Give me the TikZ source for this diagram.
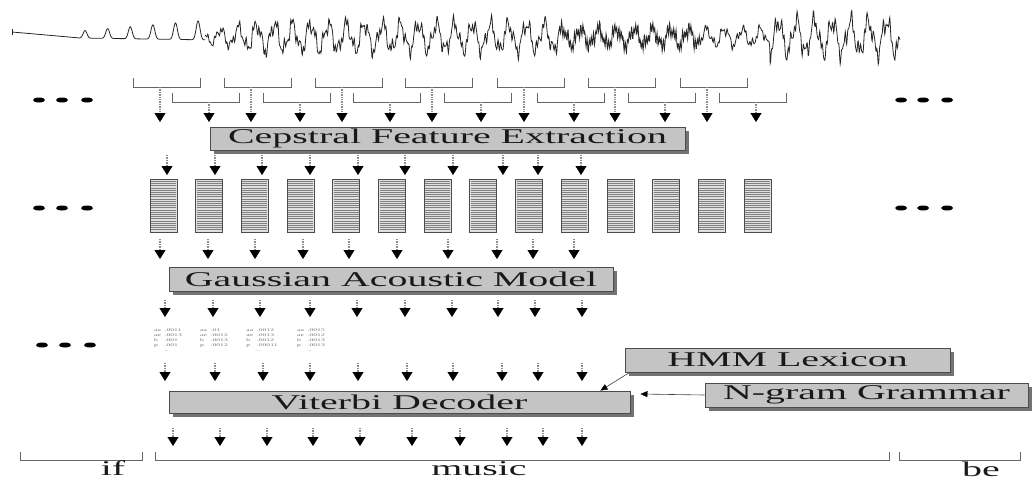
\documentclass[tikz,border=0pt]{standalone}
\usepackage{graphicx}
\usepackage{fontspec}
\setmainfont{Liberation Serif}
\usetikzlibrary{positioning, arrows.meta, shadows}
\tikzset{>=latex}
\newcommand{\wide}[1]{\scalebox{1.9}[1]{#1}}
\tikzset{
    stage/.style = {rectangle, draw=black!70, fill=black!23, line width=0.9pt, inner sep=0pt,
                        minimum height=23pt, align=center, text=black!90,
                        font=\fontsize{21}{24}\selectfont,
                        drop shadow={shadow xshift=4pt, shadow yshift=-4pt, fill=black!55, opacity=1}},
    fvec/.style = {rectangle, draw=black!70, fill=black!12, line width=1pt,
                        minimum width=27pt, minimum height=53pt, inner sep=0pt},
    word/.style = {font=\fontsize{21}{24}\selectfont, text=black!90, inner sep=0pt, anchor=base},
    lik/.style = {font=\fontsize{4}{5}\selectfont, text=black!55, inner sep=0pt},
    flow/.style = {draw=black!45, densely dotted, line width=1.4pt,
                        -{Triangle[width=11pt,length=9pt,line width=0.4pt,black]}},
    feed/.style = {draw=black!75, line width=0.6pt,
                        -{Triangle[width=6pt,length=7pt,line width=0.4pt,black]}},
    bracket/.style = {draw=black!60, line width=0.8pt},
    wave/.style = {draw=black!85, line width=0.8pt}
}

\begin{document}
\begin{tikzpicture}[x=1pt, y=-1pt,
    declare function={
        wamp(\x) = ifthenelse(\x<260, 7+(\x-205)*0.2, ifthenelse(\x<560, 18, ifthenelse(\x<770, 11, 22)));
        wbuzz(\x) = ifthenelse(\x>560, ifthenelse(\x<700, 1, 0.25), 0.25);
        wsig(\x) = 0.7*sin(20*mod(\x,18)) + 0.3*sin(47*mod(\x,7.66)+30)
                   + 0.2*sin(113*mod(\x,3.186))
                   + wbuzz(\x)*0.45*sin(170*mod(\x,2.1176));
    }]
\useasboundingbox (0,0) rectangle (1032,480);

% speech waveform
\draw[wave] (12,29) -- (12,35);
\draw[wave] (12,32) -- (80,38);
\draw[wave] plot[domain=80:205, samples=250]
    (\x, {38+0.015*(\x-80)-(7+0.1*(\x-80))*pow(abs(cos(7.96*(\x-85))),14)});
\draw[wave] plot[domain=205:900, samples=1500] (\x, {37-wamp(\x)*wsig(\x)});

% analysis windows
\foreach \l [count=\i] in {133,224,315,405,497,588,680} {
    \draw[bracket] (\l,78) -- (\l,87) -- (\l+67,87) -- (\l+67,78);
    \coordinate (wa\i) at (\l+27,87);
    \coordinate (wb\i) at (\l+27,122);
    \draw[flow] (wa\i) -- (wb\i);
}
\foreach \l [count=\i] in {172,263,353,444,537,628,719} {
    \draw[bracket] (\l,93) -- (\l,102) -- (\l+67,102) -- (\l+67,93);
    \coordinate (va\i) at (\l+37,102);
    \coordinate (vb\i) at (\l+37,122);
    \draw[flow] (va\i) -- (vb\i);
}

% ellipsis marks
\foreach \y/\s in {100/0, 208/0, 345/3}
    \foreach \d in {39,62,87}
        \fill[black] (\d+\s,\y) ellipse [x radius=6pt, y radius=2.5pt];
\foreach \y in {100, 208}
    \foreach \d in {901,923,947}
        \fill[black] (\d,\y) ellipse [x radius=6pt, y radius=2.5pt];

\node (ceps) [stage, minimum width=475pt] at (447.5,138.5) {\wide{Cepstral Feature Extraction}};

\foreach \x [count=\i] in {167,215,262,310,358,405,453,503,538,581} {
    \coordinate (ca\i) at (\x,155);
    \coordinate (cb\i) at (\x,175);
    \draw[flow] (ca\i) -- (cb\i);
}

% feature vectors
\foreach \i in {0,...,13} {
    \node (fv\i) [fvec] at ({163.5+45.7*\i},205.5) {};
    \foreach \k in {1,...,23}
        \draw[black!50, line width=0.5pt] ({151+45.7*\i},{179+2.2*\k}) -- ++(25,0);
}

\foreach \x [count=\i] in {160,208,255,303,349,397,448,497,533,574} {
    \coordinate (fa\i) at (\x,239);
    \coordinate (fb\i) at (\x,259);
    \draw[flow] (fa\i) -- (fb\i);
}

\node (gauss) [stage, minimum width=444pt, minimum height=24pt] at (391,279) {\wide{Gaussian Acoustic Model}};

\foreach \x [count=\i] in {165,213,260,310,357,405,452,498,535,582} {
    \coordinate (ga\i) at (\x,300);
    \coordinate (gb\i) at (\x,317);
    \draw[flow] (ga\i) -- (gb\i);
}

% phone likelihoods
\node (lik1) [lik] at (168,340) {\wide{\begin{tabular}{@{}l@{\ \ }l@{}}aa & .0011\\ ae & .0013\\ b & .001\\ p & .001\\ & --\end{tabular}}};
\node (lik2) [lik] at (214,340) {\wide{\begin{tabular}{@{}l@{\ \ }l@{}}aa & .01\\ ae & .0012\\ b & .0013\\ p & .0012\\ & \end{tabular}}};
\node (lik3) [lik] at (262,340) {\wide{\begin{tabular}{@{}l@{\ \ }l@{}}aa & .0012\\ ae & .0013\\ b & .0012\\ p & .00011\\ & --\end{tabular}}};
\node (lik4) [lik] at (311,340) {\wide{\begin{tabular}{@{}l@{\ \ }l@{}}aa & .0015\\ ae & .0012\\ b & .0013\\ p & .0013\\ & --\end{tabular}}};

\foreach \x [count=\i] in {165,215,263,310,358,407,453,502,538,582} {
    \coordinate (la\i) at (\x,363);
    \coordinate (lb\i) at (\x,381);
    \draw[flow] (la\i) -- (lb\i);
}

\node (viterbi) [stage, minimum width=461pt, minimum height=22pt] at (399.5,402) {\wide{Viterbi Decoder}};
\node (lexicon) [stage, minimum width=325pt, minimum height=24pt] at (787.5,360) {\wide{HMM Lexicon}};
\node (ngram) [stage, minimum width=323pt, minimum height=24pt] at (866.5,395) {\wide{N-gram Grammar}};
\draw[feed] ([xshift=5pt]lexicon.south west) -- ([xshift=-30pt]viterbi.north east);
\draw[feed] (ngram.west) -- ([xshift=10pt,yshift=8pt]viterbi.east);

\foreach \x [count=\i] in {173,220,267,313,360,412,460,507,543,582} {
    \coordinate (da\i) at (\x,428);
    \coordinate (db\i) at (\x,446);
    \draw[flow] (da\i) -- (db\i);
}

% word segments
\draw[bracket] (20,452) -- (20,460) -- (142,460) -- (142,452);
\draw[bracket] (155,452) -- (155,460) -- (889,460) -- (889,452);
\draw[bracket] (899,452) -- (899,460) -- (1020,460) -- (1020,452);
\node (wif) [word] at (113,475) {\wide{if}};
\node (wmusic) [word] at (479,475) {\wide{music}};
\node (wbe) [word] at (981,476) {\wide{be}};
\end{tikzpicture}
\end{document}
